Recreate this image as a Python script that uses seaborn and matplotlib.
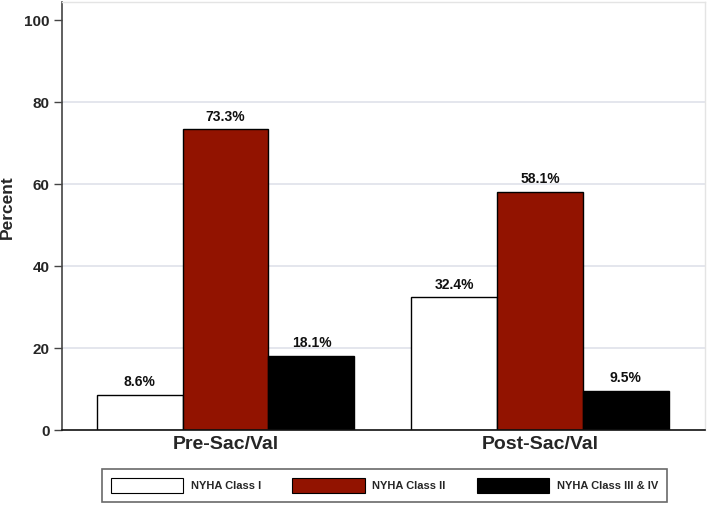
import matplotlib
matplotlib.use("Agg")
import matplotlib.pyplot as plt
import seaborn as sns
import pandas as pd
from matplotlib.patches import Patch

groups = ["Pre-Sac/Val", "Post-Sac/Val"]
classes = ["NYHA Class I", "NYHA Class II", "NYHA Class III & IV"]
pre_values = [8.6, 73.3, 18.1]
post_values = [32.4, 58.1, 9.5]
colors = ["#ffffff", "#921300", "#000000"]
yticks = [0, 20, 40, 60, 80, 100]

rows = []
for g, vals in zip(groups, [pre_values, post_values]):
    for c, v in zip(classes, vals):
        rows.append({"group": g, "cls": c, "value": v})
df = pd.DataFrame(rows)

sns.set_theme(style="white")
plt.rcParams["font.family"] = ["Liberation Sans", "DejaVu Sans"]
plt.rcParams["font.weight"] = "bold"

fig = plt.figure(figsize=(7.09, 5.05), dpi=100)
W, H = 709, 505
ax = fig.add_axes([62 / W, 1 - 430 / H, (705 - 62) / W, (430 - 2) / H])

sns.barplot(data=df, x="group", y="value", hue="cls", order=groups,
            hue_order=classes, palette=colors, width=0.82, edgecolor="black",
            linewidth=1.0, ax=ax, legend=False, saturation=1)

for cont in ax.containers:
    for bar in cont:
        h = bar.get_height()
        ax.annotate(f"{h:.1f}%", (bar.get_x() + bar.get_width() / 2, h),
                    xytext=(0, 4), textcoords="offset points",
                    ha="center", va="bottom", fontsize=10, fontweight="bold",
                    color="#111111")

ax.set_xlim(-0.52, 1.525)
ax.set_ylim(0, 104.4)
ax.set_yticks(yticks)
ax.set_yticklabels([str(t) for t in yticks], fontsize=11, fontweight="bold")
ax.set_xticks([0, 1])
ax.set_xticklabels(groups, fontsize=14, fontweight="bold")
ax.tick_params(axis="x", length=0, pad=4)
ax.tick_params(axis="y", length=6, width=1, color="#444444", direction="out", left=True, pad=3)
ax.set_xlabel("")
ax.set_ylabel("Percent", fontsize=12.5, fontweight="bold")
ax.yaxis.set_label_coords(-0.073, 0.52)

for y in [20, 40, 60, 80]:
    ax.axhline(y, color="#dfe2ea", linewidth=1.2, zorder=0)
ax.set_axisbelow(True)

ax.spines["left"].set_color("#444444")
ax.spines["left"].set_linewidth(1.2)
ax.spines["bottom"].set_color("#111111")
ax.spines["bottom"].set_linewidth(1.2)
ax.spines["top"].set_color("#e4e4e4")
ax.spines["right"].set_color("#e4e4e4")
ax.spines["top"].set_linewidth(1.0)
ax.spines["right"].set_linewidth(1.0)

handles = [Patch(facecolor=c, edgecolor="black", linewidth=0.8) for c in colors]
leg = fig.legend(handles, classes, loc="lower left",
                 bbox_to_anchor=(102 / W, 1 - 502 / H, (667 - 102) / W, (502 - 467) / H),
                 mode="expand", ncol=3, frameon=True, fancybox=False,
                 prop={"size": 8, "weight": "bold"}, handlelength=6.5,
                 handleheight=1.7, handletextpad=0.7, borderaxespad=0,
                 borderpad=0.8)
leg.get_frame().set_edgecolor("#444444")
leg.get_frame().set_linewidth(1.2)

fig.savefig("out.png", dpi=100)
